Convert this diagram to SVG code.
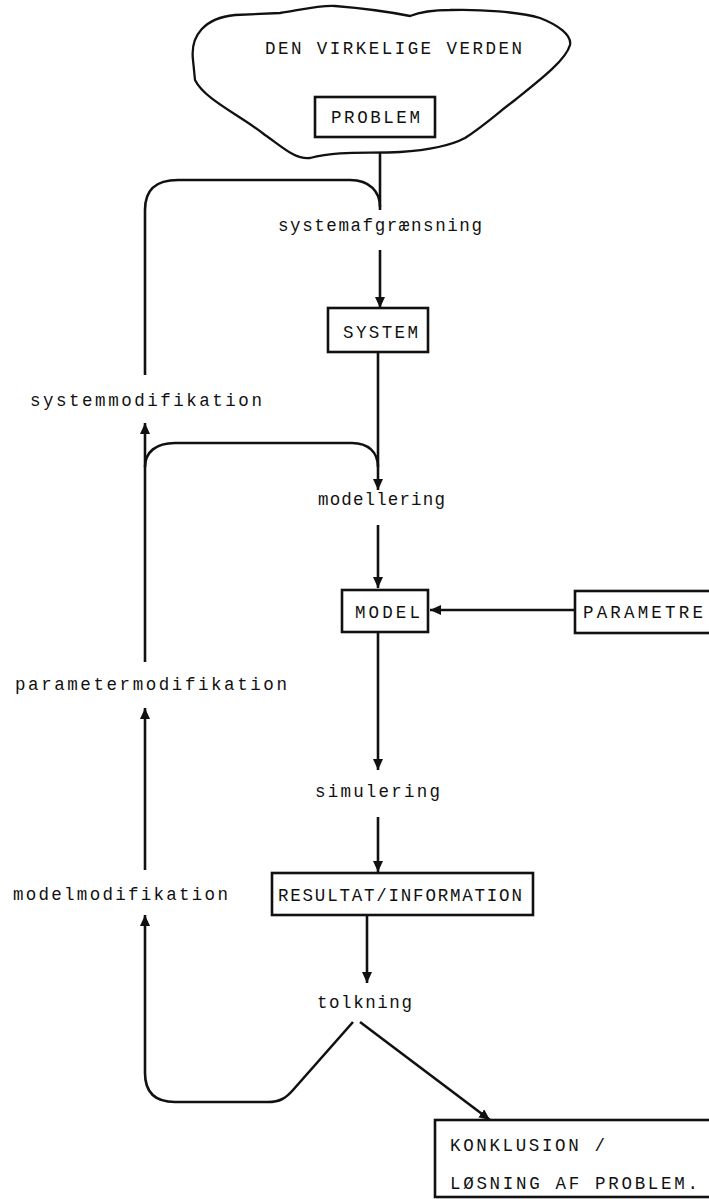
<svg xmlns="http://www.w3.org/2000/svg" width="709" height="1199" viewBox="0 0 709 1199">
<style>
  .t{font-family:"Liberation Mono","DejaVu Sans Mono",monospace;font-size:17.5px;letter-spacing:2.1px;fill:#111}
  .box{fill:#fff;stroke:#111;stroke-width:2.6}
  .ln{fill:none;stroke:#111;stroke-width:2.6}
  .cloud{fill:#fff;stroke:#111;stroke-width:2.3;stroke-linejoin:round}
</style>
<defs>
  <marker id="ah" markerUnits="userSpaceOnUse" markerWidth="12" markerHeight="10" refX="11" refY="5" orient="auto">
    <path d="M0,0 L11,5 L0,10 z" fill="#111"/>
  </marker>
</defs>
<rect width="709" height="1199" fill="#fff"/>

<g id="connectors">
  <path class="ln" d="M380,153 L380,210"/>
  <path class="ln" d="M145,375 L145,210 C145,190 155,180 178,180 L350,180 C370,180 380,192 380,207"/>
  <path class="ln" marker-end="url(#ah)" d="M380,250 L380,308"/>
  <path class="ln" marker-end="url(#ah)" d="M378,352 L378,490"/>
  <path class="ln" marker-end="url(#ah)" d="M145,662 L145,423"/>
  <path class="ln" d="M378,467 C378,452 368,443 352,443 L175,443 C156,443 145,452 145,467"/>
  <path class="ln" marker-end="url(#ah)" d="M378,525 L378,588"/>
  <path class="ln" marker-end="url(#ah)" d="M575,610 L430,610"/>
  <path class="ln" marker-end="url(#ah)" d="M378,632 L378,770"/>
  <path class="ln" marker-end="url(#ah)" d="M145,870 L145,708"/>
  <path class="ln" marker-end="url(#ah)" d="M378,817 L378,872"/>
  <path class="ln" marker-end="url(#ah)" d="M367,915 L367,983"/>
  <path class="ln" marker-end="url(#ah)" d="M145,1073 L145,915"/>
  <path class="ln" d="M353,1022 L293,1090 C286,1098 280,1102 268,1102 L175,1102 C155,1102 145,1092 145,1073"/>
  <path class="ln" marker-end="url(#ah)" d="M360,1022 L490,1120"/>
</g>

<g id="world">
  <path class="cloud" d="M193,60 C190,35 205,18 235,15 L280,13 C300,10 320,5 335,6 C360,8 390,12 410,16 C420,12 430,10 450,10 C480,9 520,12 540,18 C558,25 572,35 570,45 C566,60 540,80 515,100 C495,115 485,125 465,138 C450,146 430,150 400,152 C370,154 340,150 310,158 C295,160 280,145 265,135 C240,115 205,100 195,80 Z"/>
  <text class="t" x="265" y="54" textLength="259" lengthAdjust="spacing">DEN VIRKELIGE VERDEN</text>
</g>
<g id="problem">
  <rect class="box" x="315" y="97" width="120" height="40"/>
  <text class="t" x="331" y="123" textLength="91" lengthAdjust="spacing">PROBLEM</text>
</g>
<g id="systemafgraensning"><text class="t" x="278" y="231" textLength="206" lengthAdjust="spacing">systemafgrænsning</text></g>
<g id="system">
  <rect class="box" x="328" y="308" width="100" height="44"/>
  <text class="t" x="343" y="338" textLength="77" lengthAdjust="spacing">SYSTEM</text>
</g>
<g id="systemmodifikation"><text class="t" x="30" y="406" textLength="234" lengthAdjust="spacing">systemmodifikation</text></g>
<g id="modellering"><text class="t" x="318" y="505" textLength="129" lengthAdjust="spacing">modellering</text></g>
<g id="model">
  <rect class="box" x="342" y="590" width="86" height="42"/>
  <text class="t" x="355" y="618" textLength="67" lengthAdjust="spacing">MODEL</text>
</g>
<g id="parametre">
  <rect class="box" x="575" y="591" width="150" height="42"/>
  <text class="t" x="583" y="618" textLength="122" lengthAdjust="spacing">PARAMETRE</text>
</g>
<g id="parametermodifikation"><text class="t" x="15" y="690" textLength="274" lengthAdjust="spacing">parametermodifikation</text></g>
<g id="simulering"><text class="t" x="315" y="797" textLength="127" lengthAdjust="spacing">simulering</text></g>
<g id="modelmodifikation"><text class="t" x="13" y="900" textLength="217" lengthAdjust="spacing">modelmodifikation</text></g>
<g id="resultat">
  <rect class="box" x="272" y="873" width="261" height="42"/>
  <text class="t" x="278" y="901" textLength="246" lengthAdjust="spacing">RESULTAT/INFORMATION</text>
</g>
<g id="tolkning"><text class="t" x="317" y="1008" textLength="97" lengthAdjust="spacing">tolkning</text></g>
<g id="konklusion">
  <rect class="box" x="435" y="1120" width="300" height="77"/>
  <text class="t" x="450" y="1151" textLength="157" lengthAdjust="spacing">KONKLUSION /</text>
  <text class="t" x="450" y="1189" textLength="250" lengthAdjust="spacing">LØSNING AF PROBLEM.</text>
</g>
</svg>
